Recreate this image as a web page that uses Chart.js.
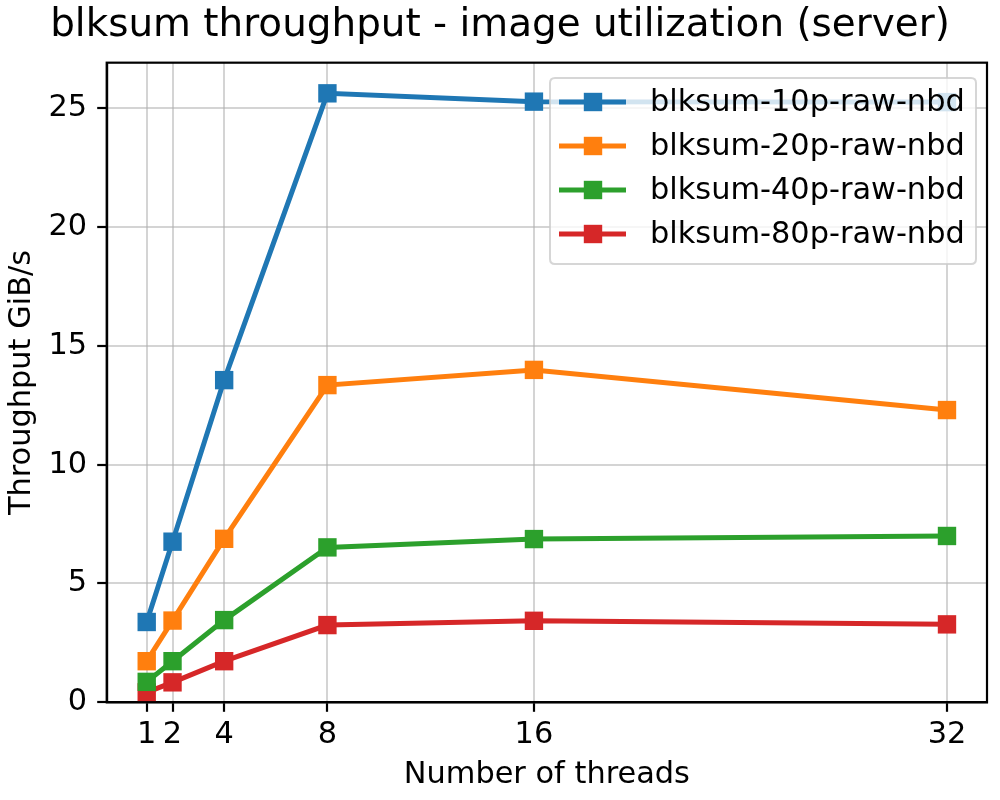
<!DOCTYPE html>
<html>
<head>
<meta charset="utf-8">
<script src="https://cdn.jsdelivr.net/npm/chart.js@4/dist/chart.umd.min.js"></script>
<style>
  html, body { margin: 0; padding: 0; background: #fff; }
  #wrap { width: 1000px; height: 800px; }
</style>
</head>
<body>
<div id="wrap"><canvas id="c" width="1000" height="800"></canvas></div>
<script>
const threads = [1, 2, 4, 8, 16, 32];
const xTicks = [1, 2, 4, 8, 16, 32];
const yTicks = [0, 5, 10, 15, 20, 25];
const seriesNames = ['blksum-10p-raw-nbd', 'blksum-20p-raw-nbd', 'blksum-40p-raw-nbd', 'blksum-80p-raw-nbd'];
const s10p = [3.38, 6.76, 13.56, 25.63, 25.28, 25.26];
const s20p = [1.73, 3.44, 6.88, 13.35, 13.99, 12.30];
const s40p = [0.86, 1.73, 3.46, 6.52, 6.87, 7.00];
const s80p = [0.42, 0.84, 1.73, 3.25, 3.43, 3.28];
const colors = ['#1f77b4', '#ff7f0e', '#2ca02c', '#d62728'];
const allSeries = [s10p, s20p, s40p, s80p];

const FONT = 'DejaVu Sans';
const FS = 30.4;

const datasets = allSeries.map((vals, i) => ({
  label: seriesNames[i],
  data: threads.map((t, j) => ({ x: t, y: vals[j] })),
  borderColor: colors[i],
  backgroundColor: colors[i],
  borderWidth: 5,
  pointStyle: 'rect',
  pointRadius: 13,
  pointBorderWidth: 0,
  pointHoverRadius: 13,
  tension: 0,
  clip: false
}));

const framePlugin = {
  id: 'frame',
  afterDatasetsDraw(chart) {
    const { ctx, chartArea: a } = chart;
    ctx.save();
    ctx.strokeStyle = '#000';
    ctx.lineWidth = 2.2;
    ctx.strokeRect(a.left, a.top, a.right - a.left, a.bottom - a.top);
    ctx.restore();

    // legend (inside, upper right)
    const bx = 550, by = 78, bw = 426, bh = 186, r = 5;
    ctx.save();
    ctx.beginPath();
    ctx.moveTo(bx + r, by);
    ctx.lineTo(bx + bw - r, by);
    ctx.quadraticCurveTo(bx + bw, by, bx + bw, by + r);
    ctx.lineTo(bx + bw, by + bh - r);
    ctx.quadraticCurveTo(bx + bw, by + bh, bx + bw - r, by + bh);
    ctx.lineTo(bx + r, by + bh);
    ctx.quadraticCurveTo(bx, by + bh, bx, by + bh - r);
    ctx.lineTo(bx, by + r);
    ctx.quadraticCurveTo(bx, by, bx + r, by);
    ctx.closePath();
    ctx.fillStyle = 'rgba(255,255,255,0.8)';
    ctx.fill();
    ctx.strokeStyle = 'rgba(204,204,204,0.8)';
    ctx.lineWidth = 2;
    ctx.stroke();
    chart.data.datasets.forEach((ds, i) => {
      const cy = 102 + i * 44;
      ctx.strokeStyle = ds.borderColor;
      ctx.lineWidth = 5;
      ctx.beginPath();
      ctx.moveTo(559, cy);
      ctx.lineTo(626, cy);
      ctx.stroke();
      ctx.fillStyle = ds.backgroundColor;
      ctx.fillRect(593 - 9.2, cy - 9.2, 18.4, 18.4);
      ctx.fillStyle = '#000';
      ctx.font = FS + 'px "' + FONT + '"';
      ctx.textBaseline = 'middle';
      ctx.textAlign = 'left';
      ctx.fillText(ds.label, 650, cy + 1);
    });
    ctx.restore();
  }
};

new Chart(document.getElementById('c'), {
  type: 'line',
  data: { datasets },
  plugins: [framePlugin],
  options: {
    responsive: false,
    animation: false,
    devicePixelRatio: 1,
    layout: { padding: { left: 0, right: 0, top: 0, bottom: 0 } },
    plugins: {
      legend: { display: false },
      tooltip: { enabled: false },
      title: {
        display: true,
        text: 'blksum throughput - image utilization (server)',
        color: '#000',
        font: { family: FONT, size: 38.9, weight: 'normal', lineHeight: 1.2 },
        padding: { top: 3, bottom: 13 }
      }
    },
    scales: {
      x: {
        type: 'linear',
        min: -0.55,
        max: 33.55,
        afterBuildTicks(scale) { scale.ticks = xTicks.map(v => ({ value: v })); },
        afterFit(scale) { scale.height = 97.7; },
        ticks: {
          color: '#000',
          font: { family: FONT, size: FS },
          padding: 5,
          maxRotation: 0,
          autoSkip: false,
          callback: v => String(v)
        },
        grid: {
          color: 'rgba(176,176,176,0.55)',
          lineWidth: 2,
          tickColor: '#000',
          tickWidth: 2.2,
          tickLength: 9.5
        },
        border: { display: true, color: '#000', width: 2.2 },
        title: {
          display: true,
          text: 'Number of threads',
          color: '#000',
          font: { family: FONT, size: FS },
          padding: { top: 0, bottom: 7 }
        }
      },
      y: {
        type: 'linear',
        min: 0,
        max: 26.92,
        afterBuildTicks(scale) { scale.ticks = yTicks.map(v => ({ value: v })); },
        afterFit(scale) { scale.width = 106.7; },
        ticks: {
          color: '#000',
          font: { family: FONT, size: FS },
          padding: 10,
          autoSkip: false,
          callback: v => String(v)
        },
        grid: {
          color: 'rgba(176,176,176,0.55)',
          lineWidth: 2,
          tickColor: '#000',
          tickWidth: 2.2,
          tickLength: 9.5
        },
        border: { display: true, color: '#000', width: 2.2 },
        title: {
          display: true,
          text: 'Throughput GiB/s',
          color: '#000',
          font: { family: FONT, size: FS },
          padding: { top: 4, bottom: 0 }
        }
      },
      yRight: {
        type: 'linear',
        position: 'right',
        min: 0,
        max: 26.92,
        afterFit(scale) { scale.width = 9; },
        ticks: { display: false },
        grid: { display: false, drawTicks: false },
        border: { display: false },
        title: { display: false }
      }
    }
  }
});
</script>
</body>
</html>
